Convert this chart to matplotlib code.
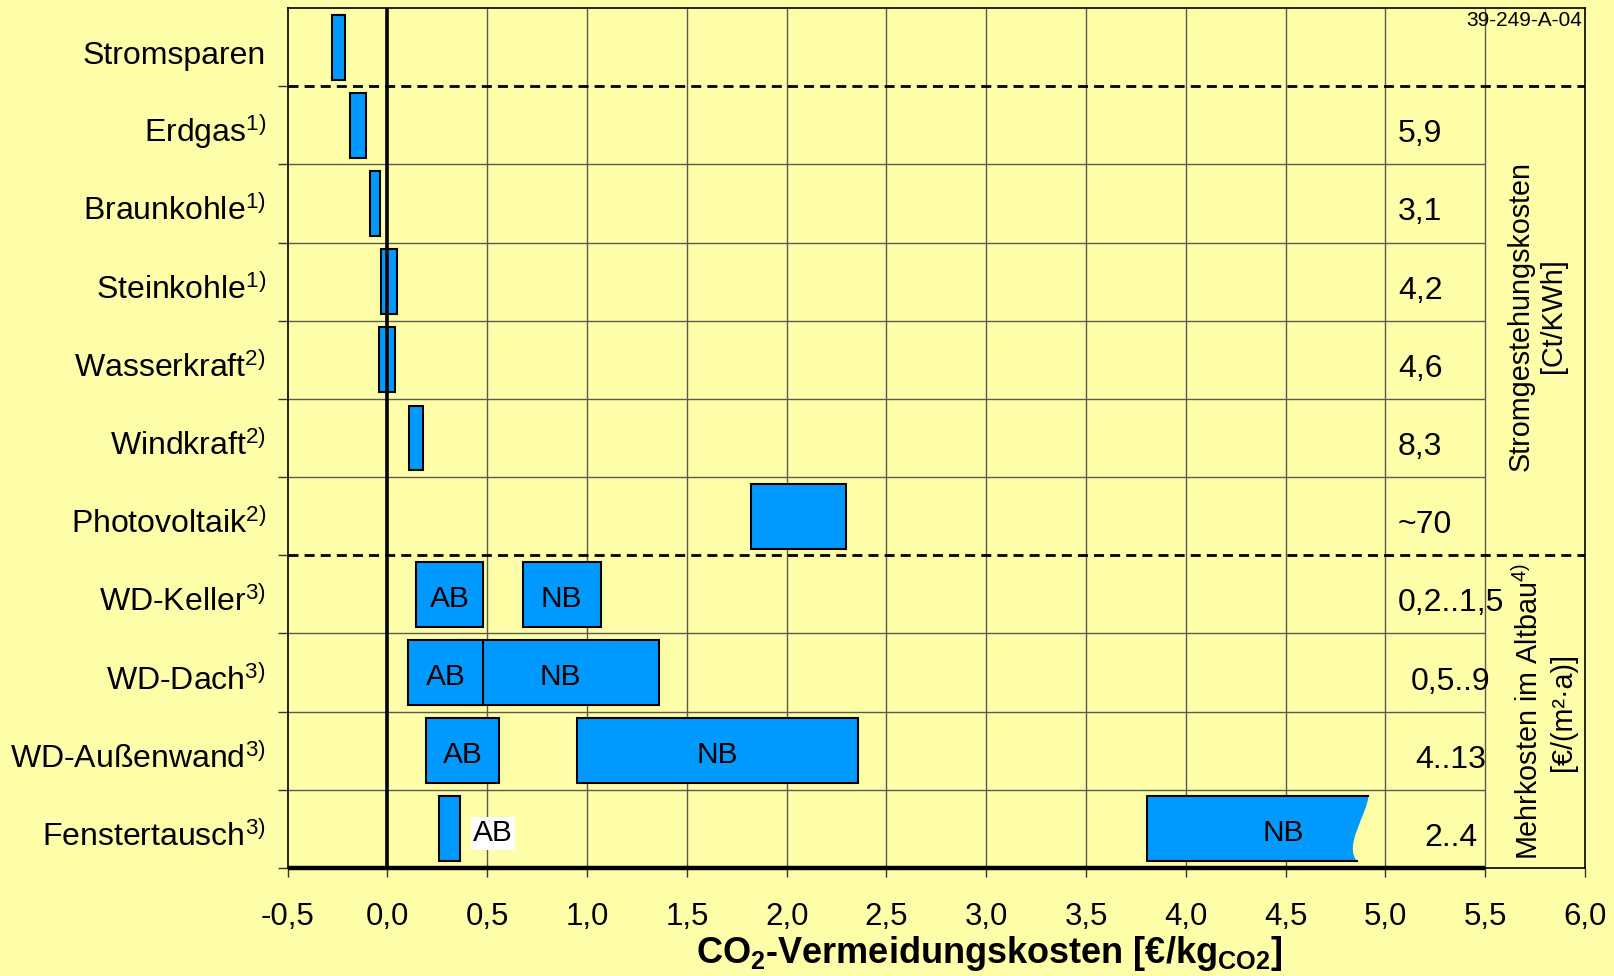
import numpy as np
import matplotlib
matplotlib.use("Agg")
import matplotlib.pyplot as plt
from matplotlib.path import Path
from matplotlib.patches import PathPatch
from matplotlib.transforms import blended_transform_factory

# Data
categories = ["Stromsparen", "Erdgas", "Braunkohle", "Steinkohle", "Wasserkraft",
              "Windkraft", "Photovoltaik", "WD-Keller", "WD-Dach", "WD-Außenwand",
              "Fenstertausch"]
footnotes = ["", "1)", "1)", "1)", "2)", "2)", "2)", "3)", "3)", "3)", "3)"]

# power generation / saving: cost ranges [EUR/kg CO2]
strom_low = [-0.28, -0.19, -0.09, -0.033, -0.042, 0.107, 1.82]
strom_high = [-0.215, -0.108, -0.038, 0.05, 0.04, 0.178, 2.295]
strom_kosten = ["", "5,9", "3,1", "4,2", "4,6", "8,3", "~70"]

# insulation measures: AB = Altbau, NB = Neubau
ab_low = [0.145, 0.105, 0.195, 0.26]
ab_high = [0.48, 0.48, 0.558, 0.365]
nb_low = [0.677, 0.37, 0.95, 3.807]
nb_high = [1.068, 1.36, 2.355, 4.915]
mehrkosten = ["0,2..1,5", "0,5..9", "4..13", "2..4"]

x_ticks = np.arange(-0.5, 6.01, 0.5)
x_ticklabels = [f"{v:.1f}".replace(".", ",") for v in x_ticks]

BG = "#FFFFAA"
BAR = "#0099FF"
GRID = "#5a5a50"

plt.rcParams["font.family"] = ["Liberation Sans", "DejaVu Sans"]
plt.rcParams["mathtext.default"] = "regular"

fig = plt.figure(figsize=(16.15, 9.76), dpi=100, facecolor=BG)
ax = fig.add_axes([0.17814, 0.11066, 0.80328, 0.88115], facecolor=BG)
ax.set_xlim(-0.5, 6.0)
ax.set_ylim(10.5, -0.5)

for sp in ax.spines.values():
    sp.set_linewidth(1.2)
    sp.set_color("black")

# ticks
ax.set_xticks(x_ticks)
ax.set_xticklabels(x_ticklabels, fontsize=22.5)
ax.tick_params(axis="x", direction="out", length=6.5, width=1, color="#333333", pad=18)
ax.set_yticks(np.arange(0.5, 11, 1.0))
ax.set_yticklabels([])
ax.tick_params(axis="y", direction="out", length=7, width=1, color="#333333")

# grid
ax.vlines(np.arange(0.5, 5.51, 0.5), -0.5, 10.5, colors=GRID, lw=1, zorder=1)
seps = [y for y in np.arange(1.5, 10.5, 1.0) if y != 6.5]
ax.hlines(seps, -0.5, 5.5, colors=GRID, lw=1, zorder=1)
ax.hlines([0.5, 6.5], -0.5, 6.0, colors="black", lw=2, linestyles=[(0, (3.6, 2.2))], zorder=2)

h = 0.83
# power rows
n1 = len(strom_low)
ax.barh(np.arange(n1), np.array(strom_high) - np.array(strom_low), left=strom_low,
        height=h, color=BAR, edgecolor="black", linewidth=1.5, zorder=3)

# insulation rows
rows2 = np.arange(n1, len(categories))
nb_w = np.array(nb_high) - np.array(nb_low)
ax.barh(rows2[:-1], nb_w[:-1], left=nb_low[:-1], height=h, color=BAR,
        edgecolor="black", linewidth=1.5, zorder=3)

# last NB bar with a broken (wavy) right end
y0, y1 = rows2[-1] - h / 2, rows2[-1] + h / 2
xl, xr = nb_low[-1], nb_high[-1]
verts = [(xl, y0), (xr, y0), (xr - 0.01, y0 + 0.3 * h), (xr - 0.125, y0 + 0.75 * h),
         (xr - 0.057, y1), (xl, y1), (xl, y0)]
codes = [Path.MOVETO, Path.LINETO, Path.CURVE4, Path.CURVE4, Path.CURVE4,
         Path.LINETO, Path.CLOSEPOLY]
ax.add_patch(PathPatch(Path(verts, codes), facecolor=BAR, edgecolor="none", zorder=3))
ax.plot([xr, xl, xl, xr - 0.057], [y0, y0, y1, y1], color="black", lw=1.5, zorder=3.5)

ab_w = np.array(ab_high) - np.array(ab_low)
ax.barh(rows2, ab_w, left=ab_low, height=h, color=BAR, edgecolor="black",
        linewidth=1.5, zorder=3.6)

# bar labels
for i, r in enumerate(rows2):
    nx = (nb_low[i] + nb_high[i]) / 2
    if i == len(rows2) - 1:
        nx += 0.125
        ax.text(ab_high[i] + 0.165, r + 0.16, "AB", fontsize=21.5, ha="center",
                va="baseline", zorder=6,
                bbox=dict(facecolor="white", edgecolor="none", pad=1.5))
    else:
        ax.text((ab_low[i] + ab_high[i]) / 2, r + 0.16, "AB", fontsize=21.5,
                ha="center", va="baseline", zorder=6)
    ax.text(nx, r + 0.16, "NB", fontsize=21.5, ha="center", va="baseline", zorder=6)

# zero line and heavy bottom axis
ax.vlines(0, -0.5, 10.5, colors="black", lw=2.6, zorder=4)
ax.hlines(10.5, -0.5, 5.5, colors="black", lw=3.2, zorder=5, clip_on=False)

# category labels
tr = blended_transform_factory(ax.transAxes, ax.transData)
for i, (c, f) in enumerate(zip(categories, footnotes)):
    lab = c + (f"$^{{{f}}}$" if f else "")
    ax.text(-0.0167, i + 0.217, lab, transform=tr, fontsize=23, ha="right",
            va="baseline")

# cost columns on the right
for i, s in enumerate(strom_kosten):
    if s:
        ax.text(5.062, i + 0.217, s, fontsize=23, ha="left", va="baseline")
for i, s in zip(rows2, mehrkosten):
    ax.text(5.327, i + 0.217, s, fontsize=23, ha="center", va="baseline")

ax.text(5.758, 3.44, "Stromgestehungskosten\n[Ct/KWh]", fontsize=20.7, rotation=90,
        ha="center", va="center", multialignment="center", linespacing=1.2)
ax.text(5.80, 8.5, "Mehrkosten im Altbau$^{4)}$\n[€/(m²·a)]", fontsize=20.7,
        rotation=90, ha="center", va="center", multialignment="center", linespacing=1.2)

ax.text(0.9977, 0.9965, "39-249-A-04", transform=ax.transAxes, fontsize=15,
        ha="right", va="top")

ax.text(0.5406, -0.1105, r"CO$_2$-Vermeidungskosten [€/kg$_{CO2}$]",
        transform=ax.transAxes, fontsize=26, fontweight="bold", ha="center",
        va="baseline")

fig.savefig("out.png", dpi=100, facecolor=BG)
